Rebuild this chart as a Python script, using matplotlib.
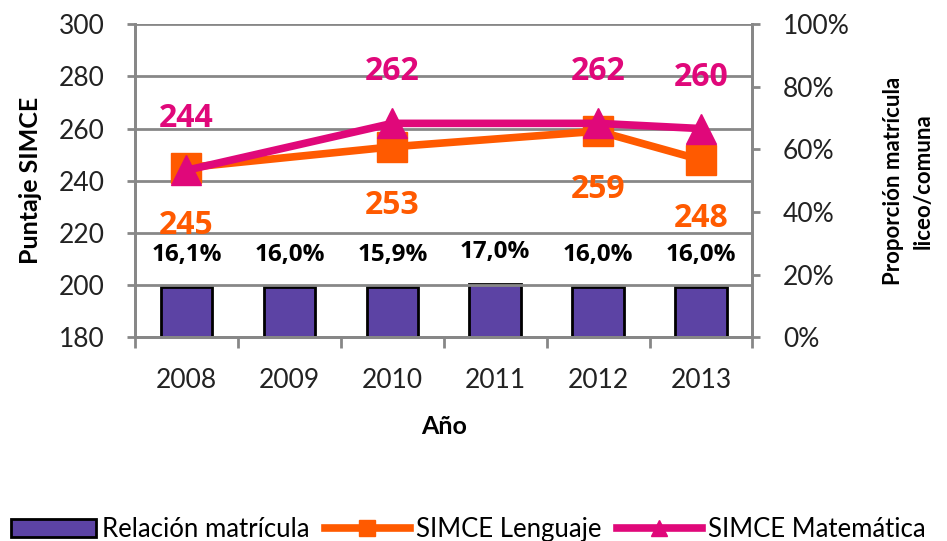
import matplotlib.pyplot as plt
import numpy as np

# datos
anios = ['2008', '2009', '2010', '2011', '2012', '2013']
relacion = [16.1, 16.0, 15.9, 17.0, 16.0, 16.0]
relacion_txt = ['16,1%', '16,0%', '15,9%', '17,0%', '16,0%', '16,0%']
# SIMCE solo en años con medición
simce_anios = ['2008', '2010', '2012', '2013']
lenguaje = [245, 253, 259, 248]
matematica = [244, 262, 262, 260]

c_bar = '#5C43A4'
c_len = '#FF5A00'
c_mat = '#E0087A'
c_grid = '#878787'
c_txt = '#222222'

plt.rcParams['font.family'] = ['Lato', 'DejaVu Sans']

fig = plt.figure(figsize=(9.47, 5.41), dpi=100)
ax = fig.add_axes([0.1426, 0.377, 0.652, 0.578])
ax2 = ax.twinx()

x = np.arange(len(anios))
xs = [anios.index(a) for a in simce_anios]

# barras (eje derecho)
ax2.bar(x, relacion, width=0.5, color=c_bar, edgecolor='black', linewidth=2,
        label='Relación matrícula')
for xi, v, t in zip(x, relacion, relacion_txt):
    ax2.annotate(t, (xi, v), xytext=(0, 23), textcoords='offset points',
                 ha='center', va='center', fontsize=17.5, fontweight='bold',
                 family=['Open Sans', 'DejaVu Sans'])
ax2.set_ylim(0, 100)
ax2.set_yticks(range(0, 101, 20))
ax2.set_yticklabels([f'{v}%' for v in range(0, 101, 20)])

# líneas (eje izquierdo)
ax.plot(xs, lenguaje, color=c_len, lw=5.5, marker='s', markersize=22,
        label='SIMCE Lenguaje')
ax.plot(xs, matematica, color=c_mat, lw=5.5, marker='^', markersize=22,
        label='SIMCE Matemática')
for xi, v in zip(xs, matematica):
    ax.annotate(str(v), (xi, v), xytext=(0, 37), textcoords='offset points',
                ha='center', va='center', fontsize=23, fontweight='bold',
                color=c_mat, family=['Open Sans', 'DejaVu Sans'])
for xi, v in zip(xs, lenguaje):
    ax.annotate(str(v), (xi, v), xytext=(0, -42), textcoords='offset points',
                ha='center', va='center', fontsize=23, fontweight='bold',
                color=c_len, family=['Open Sans', 'DejaVu Sans'])

ax.set_ylim(180, 300)
ax.set_yticks(range(180, 301, 20))
ax.set_xlim(-0.5, len(anios) - 0.5)
ax.set_xticks(x)
ax.set_xticklabels(anios)
ax.set_xticks(np.arange(-0.5, len(anios), 1), minor=True)
ax.tick_params(axis='x', which='major', length=0, pad=22)
ax.tick_params(axis='x', which='minor', length=8, width=2, color=c_grid)
ax.tick_params(axis='y', length=6, width=2, color=c_grid, pad=16)
ax2.tick_params(axis='y', length=6, width=2, color=c_grid, pad=16)
for a in (ax, ax2):
    a.tick_params(labelsize=19, labelcolor=c_txt)
    for s in ('left', 'right', 'bottom'):
        a.spines[s].set_color(c_grid)
        a.spines[s].set_linewidth(2)
    a.spines['top'].set_visible(False)

ax.yaxis.grid(True, color=c_grid, lw=2)
ax.set_axisbelow(True)
ax.set_zorder(ax2.get_zorder() + 1)
ax.patch.set_visible(False)

ax.set_ylabel('Puntaje SIMCE', fontsize=18, fontweight='bold', labelpad=12)
ax2.set_ylabel('Proporción matrícula\nliceo/comuna', fontsize=16,
               fontweight='bold', labelpad=24, linespacing=1.5)
ax.set_xlabel('Año', fontsize=18, fontweight='bold', labelpad=16)

h1, l1 = ax2.get_legend_handles_labels()
h2, l2 = ax.get_legend_handles_labels()
fig.legend(h1 + h2, l1 + l2, loc='lower left', bbox_to_anchor=(-0.013, -0.045),
           ncol=3, frameon=False, fontsize=18.5, handlelength=3.3,
           handletextpad=0.25, columnspacing=0.6, markerscale=0.5)

fig.savefig('out.png', dpi=100)
